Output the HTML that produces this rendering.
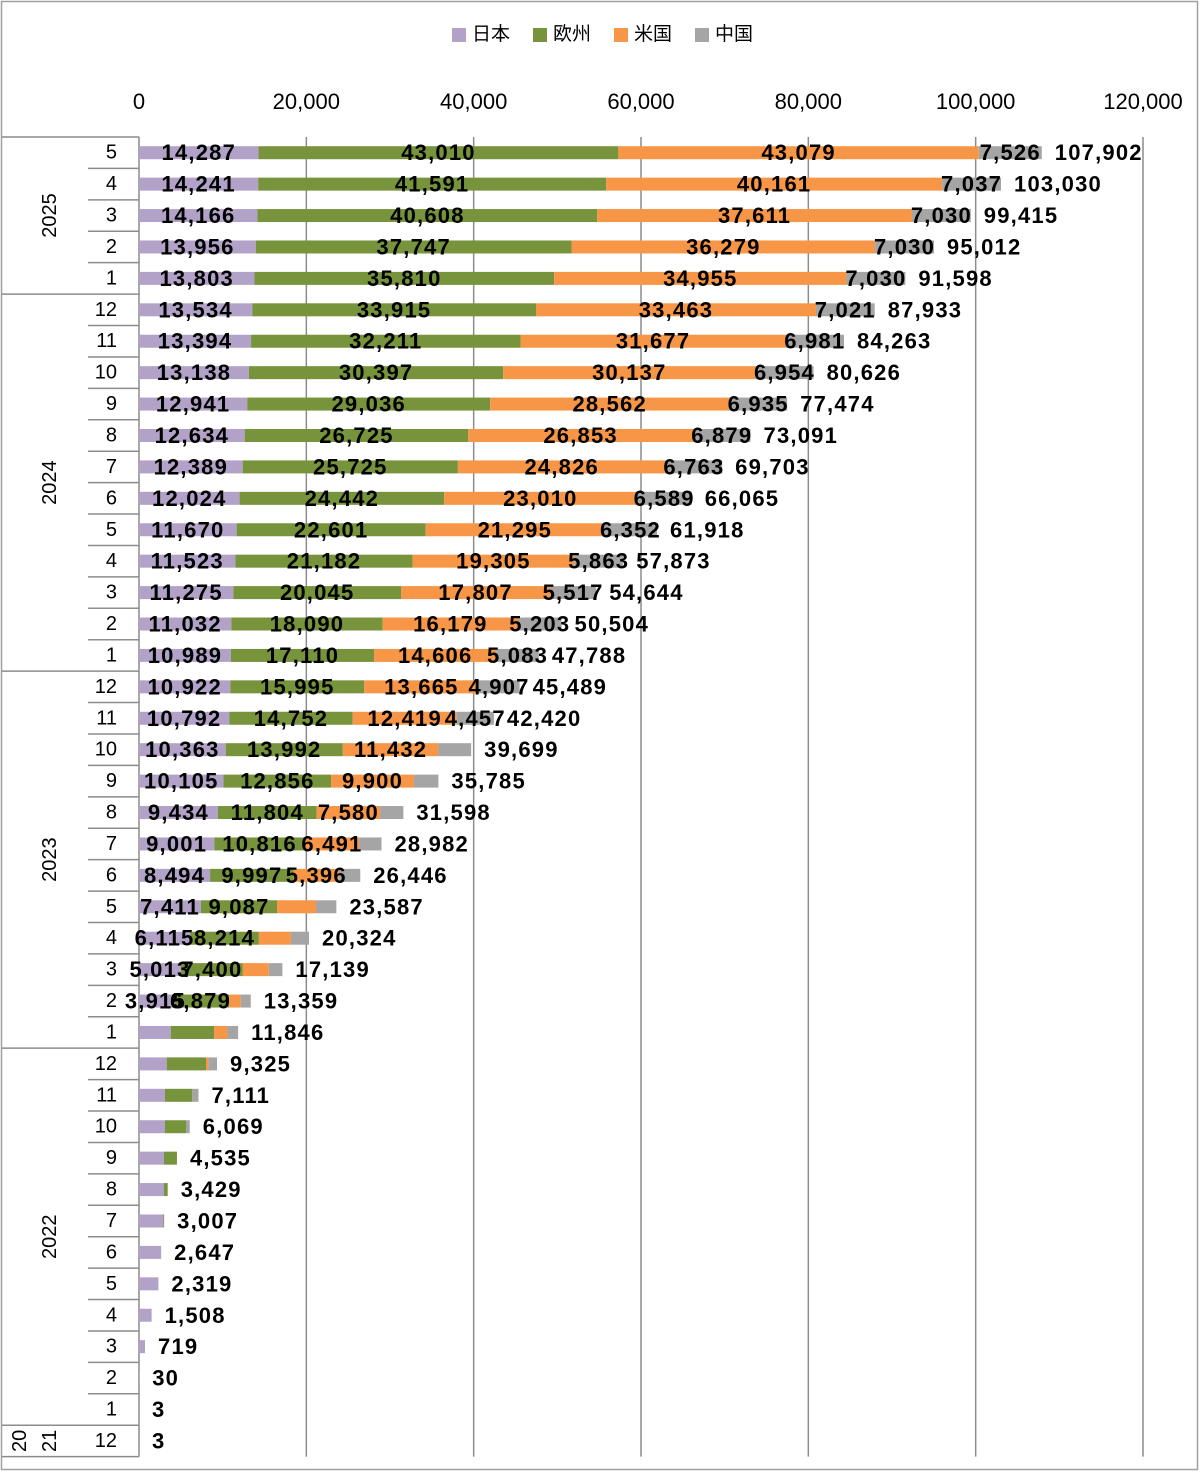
<!DOCTYPE html>
<html><head><meta charset="utf-8"><style>
html,body{margin:0;padding:0;background:#fff;}
svg{display:block;font-family:"Liberation Sans","Noto Sans CJK JP",sans-serif;}
.seg{font-weight:bold;font-size:22px;fill:#000;}
</style></head><body>
<svg id="chart" width="1200" height="1472" viewBox="0 0 1200 1472" xmlns="http://www.w3.org/2000/svg">
<rect x="1.5" y="1.5" width="1196" height="1468" fill="#fff" stroke="#a0a0a0" stroke-width="1.5"/>
<g font-size="19">
 <g><rect x="452" y="28" width="14" height="14" fill="#b3a2c7"/><text x="472" y="40">日本</text></g>
 <g><rect x="533" y="28" width="14" height="14" fill="#77933c"/><text x="553" y="40">欧州</text></g>
 <g><rect x="614" y="28" width="14" height="14" fill="#f79646"/><text x="634" y="40">米国</text></g>
 <g><rect x="695" y="28" width="14" height="14" fill="#a5a5a5"/><text x="715" y="40">中国</text></g>
</g>
<g id="grid"></g>
<g id="cats"></g>
<g id="bars"></g>
<g id="labels"></g>
</svg>
<script>
const months = [5,4,3,2,1,12,11,10,9,8,7,6,5,4,3,2,1,12,11,10,9,8,7,6,5,4,3,2,1,12,11,10,9,8,7,6,5,4,3,2,1,12];
const years = ["2025","2024","2023","2022","2021"];
const yearCounts = [5,12,12,12,1];
const japan = [14287,14241,14166,13956,13803,13534,13394,13138,12941,12634,12389,12024,11670,11523,11275,11032,10989,10922,10792,10363,10105,9434,9001,8494,7411,6115,5013,3915,3790,3310,3108,3108,2988,2988,2908,2647,2319,1508,719,30,3,3];
const europe = [43010,41591,40608,37747,35810,33915,32211,30397,29036,26725,25725,24442,22601,21182,20045,18090,17110,15995,14752,13992,12856,11804,10816,9997,9087,8214,7400,6879,5200,4700,3268,2510,1547,441,99,0,0,0,0,0,0,0];
const us = [43079,40161,37611,36279,34955,33463,31677,30137,28562,26853,24826,23010,21295,19305,17807,16179,14606,13665,12419,11432,9900,7580,6491,5396,4661,3824,3100,1355,1580,280,0,0,0,0,0,0,0,0,0,0,0,0];
const china = [7526,7037,7030,7030,7030,7021,6981,6954,6935,6879,6763,6589,6352,5863,5517,5203,5083,4907,4457,3912,2924,2780,2674,2559,2428,2171,1626,1210,1276,1035,735,451,0,0,0,0,0,0,0,0,0,0];
const ticks = [0,20000,40000,60000,80000,100000,120000];
const labelRows = [27,27,23,18];

const NS="http://www.w3.org/2000/svg";
const X0=139, X1=1143, XMAX=120000, TOP=137, PITCH=31.42;
const xs=v=>X0+v/XMAX*(X1-X0);
const yc=i=>TOP+PITCH*(i+0.5);
const fmt=v=>v.toLocaleString("en-US");
function mk(tag,attrs,parent,txt){const e=document.createElementNS(NS,tag);for(const k in attrs)e.setAttribute(k,attrs[k]);if(txt!==undefined)e.textContent=txt;parent.appendChild(e);return e;}
const n=months.length, BOTTOM=TOP+PITCH*n;
const grid=document.getElementById("grid"), cats=document.getElementById("cats"), bars=document.getElementById("bars"), labels=document.getElementById("labels");
ticks.forEach(t=>{
  if(t>0){const l=mk("line",{x1:xs(t),x2:xs(t),y1:TOP,y2:BOTTOM,stroke:"#8c8c8c","stroke-width":1.5},grid);
  
  }
  const tx=mk("text",{x:xs(t),y:109,"font-size":22,"text-anchor":"middle",fill:"#000"},grid,fmt(t));
  
  
});
mk("line",{x1:X0,x2:X0,y1:TOP,y2:BOTTOM,stroke:"#8c8c8c","stroke-width":1.5},cats);
let start=0;
years.forEach((yr,k)=>{
  const cnt=yearCounts[k];
  const y0=TOP+start*PITCH, y1=TOP+(start+cnt)*PITCH;
  const sep=mk("line",{x1:2,x2:X0,y1:y0,y2:y0,stroke:"#8c8c8c","stroke-width":1.5},cats);
  
  
  const cy=(y0+y1)/2;
  if(cnt>1){
    const t=mk("text",{x:0,y:0,"font-size":20,"text-anchor":"middle",transform:`translate(56,${cy}) rotate(-90)`},cats,yr);
    
    
  } else {
    const t1=mk("text",{x:0,y:0,"font-size":20,"text-anchor":"middle",transform:`translate(26,${cy}) rotate(-90)`},cats,yr.slice(0,2));
    
    
    const t2=mk("text",{x:0,y:0,"font-size":20,"text-anchor":"middle",transform:`translate(56,${cy}) rotate(-90)`},cats,yr.slice(2));
    
    
  }
  for(let j=1;j<cnt;j++){
    const yy=TOP+(start+j)*PITCH;
    const ms=mk("line",{x1:88,x2:X0,y1:yy,y2:yy,stroke:"#8c8c8c","stroke-width":1.5},cats);
    
    
  }
  start+=cnt;
});
mk("line",{x1:2,x2:X0,y1:BOTTOM,y2:BOTTOM,stroke:"#8c8c8c","stroke-width":1.5},cats);
const series=[["japan",japan,"#b3a2c7"],["europe",europe,"#77933c"],["us",us,"#f79646"],["china",china,"#a5a5a5"]];
for(let i=0;i<n;i++){
  const m=mk("text",{x:117,y:yc(i)+6,"font-size":20,"text-anchor":"end"},cats,String(months[i]));
  
  
  let acc=0;
  series.forEach(([nm,arr,col],s)=>{
    const v=arr[i];
    if(v>0){
      const r=mk("rect",{x:xs(acc),y:yc(i)-6.5,width:xs(acc+v)-xs(acc),height:13,fill:col},bars);
      
      
      if(i<=labelRows[s]){
        const t=mk("text",{x:(xs(acc)+xs(acc+v))/2,y:yc(i)+7.5,"text-anchor":"middle","class":"seg","letter-spacing":"1.2"},labels,fmt(v));
        
        
      }
    }
    acc+=v;
  });
  const tt=mk("text",{x:xs(acc)+13,y:yc(i)+7.5,"class":"seg","letter-spacing":"1.2"},labels,fmt(acc));
  
  
}
</script>
</body></html>
